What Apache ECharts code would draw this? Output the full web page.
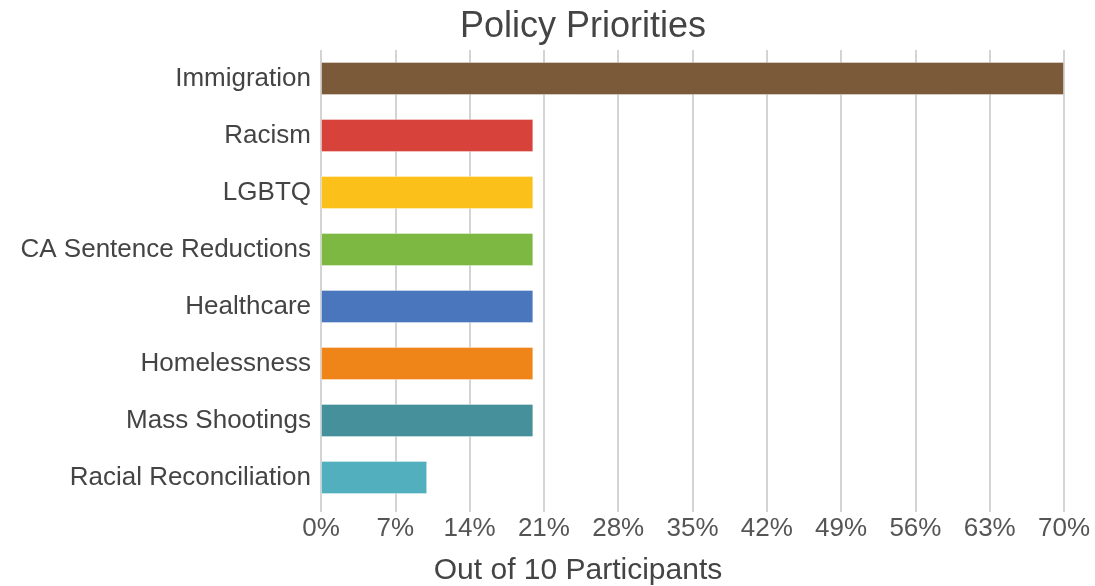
<!DOCTYPE html>
<html>
<head>
<meta charset="utf-8">
<script src="https://cdn.jsdelivr.net/npm/echarts@6/dist/echarts.min.js"></script>
<style>
  html, body { margin: 0; padding: 0; background: #fff; }
  #chart { width: 1095px; height: 586px; }
</style>
</head>
<body>
<div id="chart"></div>
<script>
// topics, top to bottom
var categories = ['Immigration', 'Racism', 'LGBTQ', 'CA Sentence Reductions',
  'Healthcare', 'Homelessness', 'Mass Shootings', 'Racial Reconciliation'];
// share of participants (%)
var values = [70, 20, 20, 20, 20, 20, 20, 10];
var barColors = ['#7B5A3A', '#D7433B', '#FBC01A', '#7DB843',
  '#4A76BE', '#EF8419', '#45909A', '#52AFBE'];
var tickStep = 7;

var myChart = echarts.init(document.getElementById('chart'));

var option = {
  backgroundColor: '#fff',
  textStyle: { fontFamily: 'Liberation Sans, Arial, sans-serif' },
  title: [{
    text: 'Policy Priorities',
    left: 578,
    textAlign: 'center',
    top: 4,
    textStyle: { fontSize: 36, fontWeight: 'normal', color: '#444' }
  }, {
    // x axis name, centred on the page like the title
    text: 'Out of 10 Participants',
    left: 573,
    textAlign: 'center',
    top: 551,
    textStyle: { fontSize: 30, fontWeight: 'normal', color: '#444' }
  }],
  grid: { left: 321, right: 31, top: 50, bottom: 80, containLabel: false },
  xAxis: {
    type: 'value',
    min: 0,
    max: 70,
    interval: tickStep,
    axisLine: { show: false },
    axisTick: { show: true, length: 6, lineStyle: { color: '#d4d4d4', width: 2 } },
    axisLabel: { fontSize: 26, color: '#555', formatter: '{value}%', margin: 10 },
    splitLine: { show: true, lineStyle: { color: '#d4d4d4', width: 2 } }
  },
  yAxis: {
    type: 'category',
    data: categories,
    inverse: true,
    axisLine: { show: false },
    axisTick: { show: false },
    axisLabel: { fontSize: 26, color: '#444', margin: 10 }
  },
  series: [{
    type: 'bar',
    data: values.map(function (v, i) {
      return { value: v, itemStyle: { color: barColors[i] } };
    }),
    barCategoryGap: '42%',
    itemStyle: { borderColor: 'rgba(255,255,255,0.35)', borderWidth: 1 },
    animation: false
  }]
};

myChart.setOption(option);
</script>
</body>
</html>
